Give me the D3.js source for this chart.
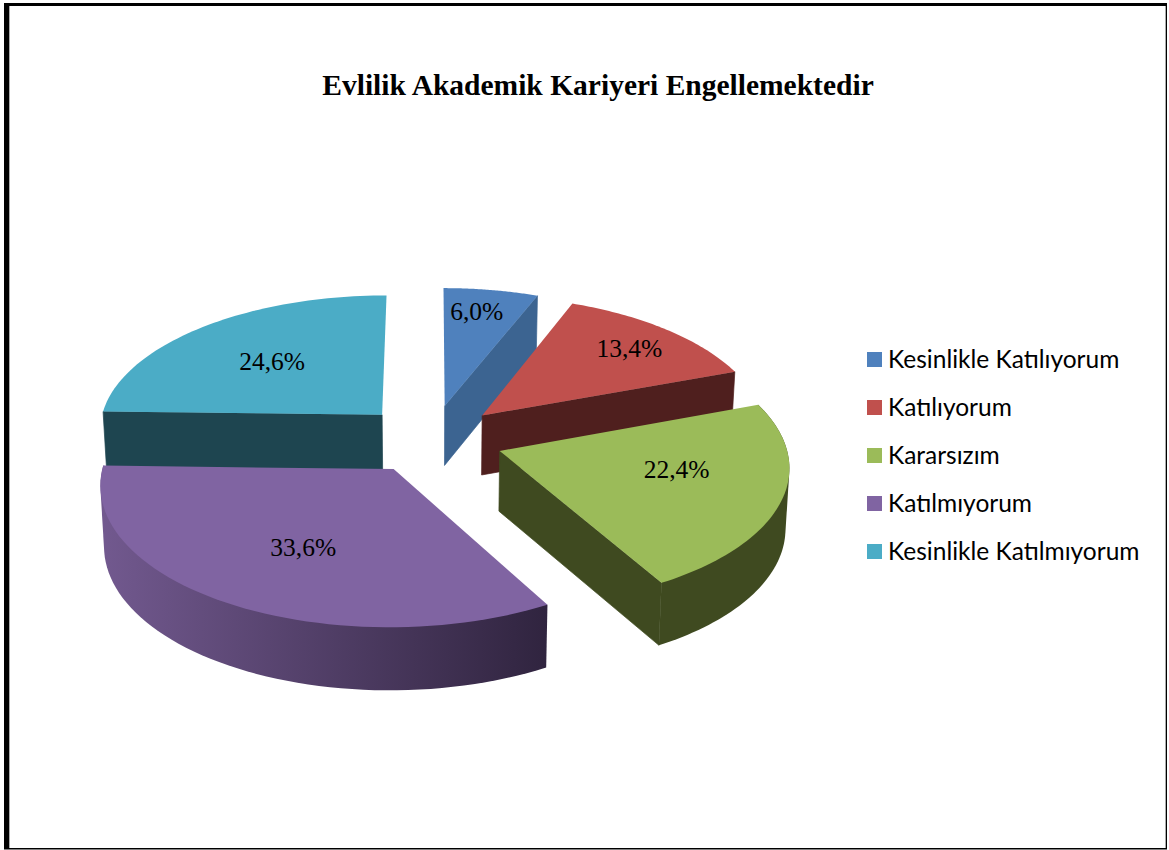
<!DOCTYPE html>
<html><head><meta charset="utf-8">
<script src="https://cdn.jsdelivr.net/npm/d3@7/dist/d3.min.js"></script>
<style>html,body{margin:0;padding:0;background:#fff}svg{display:block}</style>
</head><body><svg id="c" width="1169" height="850"></svg>
<script>
const title = "Evlilik Akademik Kariyeri Engellemektedir";
const categories = ["Kesinlikle Katılıyorum","Katılıyorum","Kararsızım","Katılmıyorum","Kesinlikle Katılmıyorum"];
const values = [6.0,13.4,22.4,33.6,24.6];
const topColors = ["#4f81bd","#c0504d","#9bbb59","#8064a2","#4bacc6"];
const cutColors = ["#3c6491","#4f1f1e","#3f4a20","#33264a","#1e4550"];
const rimLeft  = ["#3c6491","#4f1f1e","#3f4a20","#72598f","#1e4550"];
const rimRight = ["#3c6491","#4f1f1e","#3f4a20","#30243f","#1e4550"];
const labelRadius = [0.74,0.72,0.66,0.62,0.58];
const labelNudge = [[-3,-6],[12,-4],[-7,-13],[10,-1],[-3,-1]];

const svg = d3.select("#c");
svg.append("rect").attr("x",4).attr("y",3).attr("width",1163).attr("height",846.5).attr("fill","#000");
svg.append("rect").attr("x",9).attr("y",6).attr("width",1156.5).attr("height",842).attr("fill","#fff");
svg.append("rect").attr("x",9).attr("y",6).attr("width",1).attr("height",842).attr("fill","#aaa");
svg.append("rect").attr("x",1165).attr("y",6).attr("width",1).attr("height",842).attr("fill","#aaa");
svg.append("text").text(title).attr("x",598).attr("y",95).attr("text-anchor","middle")
  .attr("font-family","'Liberation Serif'").attr("font-weight","bold").attr("font-size",29.5);

// ground-plane geometry with perspective
const R=285, explode=72, cx=431.5, cy=439, ky=0.477, persp=0.00035, depth=60, shrink=0.011, depthGrow=0.00015;
const fmt = v => v.toFixed(1).replace(".",",")+"%";
const project = (u,v,z=0)=>{
  const s=1/(1-persp*v), x=cx+u*s;
  return [x+(431-x)*shrink*z, cy+ky*v*s+z*depth*(1+depthGrow*v)];
};
const pie = d3.pie().sort(null).value(d=>d)(values);
const defs = svg.append("defs");
const line = d3.line();
const slices = pie.map((p,i)=>{
  const mid=(p.startAngle+p.endAngle)/2;
  const ox=Math.sin(mid)*explode, oy=-Math.cos(mid)*explode;
  const pt=(a,r,z)=>project(ox+Math.sin(a)*r, oy-Math.cos(a)*r, z);
  return {i,a0:p.startAngle,a1:p.endAngle,mid,pt};
});
const arcAngles=(a0,a1)=>d3.range(0,61).map(k=>a0+(a1-a0)*k/60);
[4,0,1,2,3].forEach(i=>{
  const s=slices[i], g=svg.append("g");
  if(s.a1>Math.PI/2 && s.a0<3*Math.PI/2){
    const A=arcAngles(s.a0,s.a1);
    const hull=d3.polygonHull(A.map(a=>s.pt(a,R,0)).concat(A.map(a=>s.pt(a,R,1))));
    const xs=hull.map(d=>d[0]);
    const id="rim"+i;
    const gr=defs.append("linearGradient").attr("id",id).attr("gradientUnits","userSpaceOnUse")
      .attr("x1",d3.min(xs)).attr("x2",d3.max(xs)).attr("y1",0).attr("y2",0);
    gr.append("stop").attr("offset",0).attr("stop-color",rimLeft[i]);
    gr.append("stop").attr("offset",1).attr("stop-color",rimRight[i]);
    g.append("path").attr("d",line(hull)+"Z").attr("fill",`url(#${id})`);
  }
  const cut=a=>[s.pt(a,0,0),s.pt(a,R,0),s.pt(a,R,1),s.pt(a,0,1)];
  if(Math.sin(s.a1)>1e-6) g.append("path").attr("d",line(cut(s.a1))+"Z").attr("fill",cutColors[i]).attr("stroke",cutColors[i]).attr("stroke-width",0.7);
  if(Math.sin(s.a0)<-1e-6) g.append("path").attr("d",line(cut(s.a0))+"Z").attr("fill",cutColors[i]).attr("stroke",cutColors[i]).attr("stroke-width",0.7);
  const poly=[s.pt(0,0,0)].concat(arcAngles(s.a0,s.a1).map(a=>s.pt(a,R,0)));
  g.append("path").attr("d",line(poly)+"Z").attr("fill",topColors[i]);
});
slices.forEach(s=>{
  const [x,y]=s.pt(s.mid,R*labelRadius[s.i],0);
  svg.append("text").text(fmt(values[s.i])).attr("x",x+labelNudge[s.i][0]).attr("y",y+8+labelNudge[s.i][1]).attr("text-anchor","middle")
    .attr("font-family","'Liberation Serif'").attr("font-size",25.5).attr("fill","#000");
});
const ly=d3.scalePoint().domain(categories).range([359.5,551.5]);
categories.forEach((c,i)=>{
  svg.append("rect").attr("x",867).attr("y",ly(c)-7.5).attr("width",15).attr("height",15).attr("fill",topColors[i]);
  svg.append("text").text(c).attr("x",888).attr("y",ly(c)+8.5)
    .attr("font-family","Lato").attr("font-size",24.5).attr("fill","#000");
});
</script></body></html>
